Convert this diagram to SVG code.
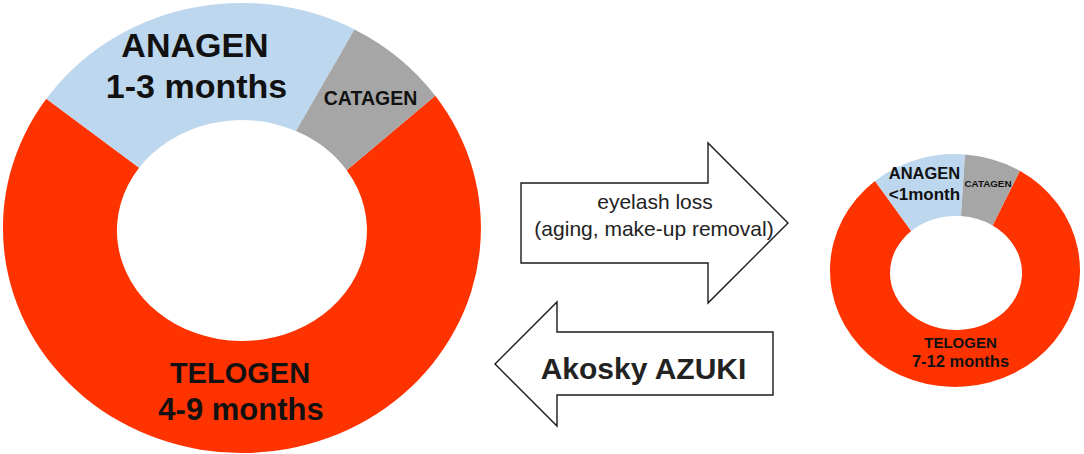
<svg xmlns="http://www.w3.org/2000/svg" width="1084" height="454" viewBox="0 0 1084 454">
<style>
.ana{fill:#BDD7EE}
.cat{fill:#A6A6A6}
.tel{fill:#FF3300}
.lbl{font-family:"Liberation Sans",Arial,sans-serif;font-weight:bold;fill:#111;text-anchor:middle}
.arr{fill:#FFFFFF;stroke:#1a1a1a;stroke-width:1.4;stroke-linejoin:miter}
.atxt{font-family:"Liberation Sans",Arial,sans-serif;fill:#222;text-anchor:middle}
</style>
<rect width="1084" height="454" fill="#FFFFFF"/>
<g id="big-donut">
  <path class="tel" d="M435.3,95.8 A239,225 0 1 1 46.3,98.8 L139.1,167.7 A125,110.5 0 1 0 346.7,170.2 Z"/>
  <path class="ana" d="M46.3,98.8 A239,225 0 0 1 354.5,29.4 L296,131 A125,110.5 0 0 0 139.1,167.7 Z"/>
  <path class="cat" d="M354.5,29.4 A239,225 0 0 1 435.3,95.8 L346.7,170.2 A125,110.5 0 0 0 296,131 Z"/>
  <text class="lbl" x="195" y="57" font-size="34">ANAGEN</text>
  <text class="lbl" x="196.5" y="98" font-size="34">1-3 months</text>
  <text class="lbl" x="370.5" y="105" font-size="19.5">CATAGEN</text>
  <text class="lbl" x="240" y="383" font-size="29">TELOGEN</text>
  <text class="lbl" x="241" y="420" font-size="31">4-9 months</text>
</g>
<g id="small-donut">
  <path class="tel" d="M1019.8,170.8 A125,116.5 0 1 1 875,180.9 L911.2,231.1 A66,57 0 1 0 992.6,225.5 Z"/>
  <path class="ana" d="M875,180.9 A125,116.5 0 0 1 965,154.5 L961,216.1 A66,57 0 0 0 911.2,231.1 Z"/>
  <path class="cat" d="M965,154.5 A125,116.5 0 0 1 1019.8,170.8 L992.6,225.5 A66,57 0 0 0 961,216.1 Z"/>
  <text class="lbl" x="924.5" y="179" font-size="16.5">ANAGEN</text>
  <text class="lbl" x="924.5" y="200" font-size="17">&lt;1month</text>
  <text class="lbl" x="988" y="187" font-size="9.8">CATAGEN</text>
  <text class="lbl" x="960.5" y="348" font-size="15">TELOGEN</text>
  <text class="lbl" x="960.5" y="367" font-size="16.5">7-12 months</text>
</g>
<g id="connectors">
  <g id="arrow-loss">
    <polygon class="arr" points="521,183 708,183 708,143 788,223 708,303 708,263 521,263"/>
    <text class="atxt" x="655" y="209" font-size="21">eyelash loss</text>
    <text class="atxt" x="654" y="236" font-size="21">(aging, make-up removal)</text>
  </g>
  <g id="arrow-azuki">
    <polygon class="arr" points="773,332 557,332 557,302 495,364 557,426 557,395 773,395"/>
    <text class="atxt" x="643.5" y="379" font-size="30" font-weight="bold" fill="#111">Akosky AZUKI</text>
  </g>
</g>
</svg>
